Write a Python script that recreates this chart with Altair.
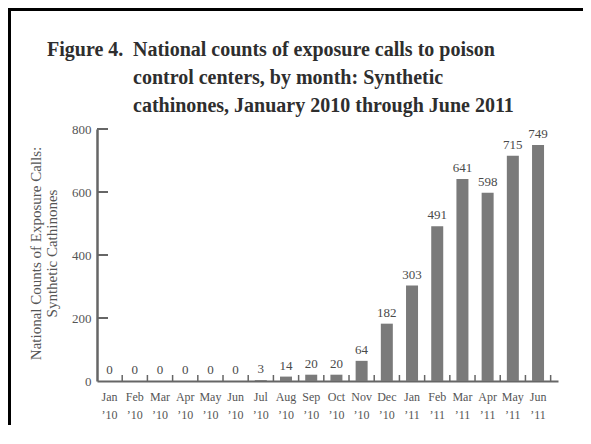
import altair as alt
import pandas as pd

# ---- data ----
months = ["Jan", "Feb", "Mar", "Apr", "May", "Jun", "Jul", "Aug", "Sep", "Oct", "Nov", "Dec",
          "Jan", "Feb", "Mar", "Apr", "May", "Jun"]
years = ["’10", "’10", "’10", "’10", "’10", "’10", "’10", "’10", "’10", "’10", "’10", "’10",
         "’11", "’11", "’11", "’11", "’11", "’11"]
counts = [0, 0, 0, 0, 0, 0, 3, 14, 20, 20, 64, 182, 303, 491, 641, 598, 715, 749]
y_tick_values = [0, 200, 400, 600, 800]
inner_tick_values = [200, 400, 600, 800]
figure_label = "Figure 4."
title_lines = [
    "National counts of exposure calls to poison",
    "control centers, by month: Synthetic",
    "cathinones, January 2010 through June 2011",
]
y_title = ["National Counts of Exposure Calls:", "Synthetic Cathinones"]

labels = [f"{m} {y}" for m, y in zip(months, years)]
df = pd.DataFrame({"label": labels, "count": counts})
ytick_df = pd.DataFrame({"count": inner_tick_values})
one = pd.DataFrame({"k": [0]})

SERIF = "Liberation Serif"
W, H = 461, 252
PAD_R, PAD_B = 25, 44
AXIS_COL = "#666666"
LABEL_COL = "#555555"

x_scale = alt.Scale(paddingInner=0, paddingOuter=0.146, align=0, round=False)
x_axis = alt.Axis(
    labelExpr="split(datum.label, ' ')", labelAngle=0, ticks=False, tickSize=0,
    labelPadding=19.5, labelBaseline="alphabetic", labelFont=SERIF, labelFontSize=12,
    labelColor=LABEL_COL, labelLineHeight=18, domainColor=AXIS_COL, domainWidth=2,
    grid=False, title=None,
)
y_scale = alt.Scale(domain=[0, 800], nice=False)
y_axis = alt.Axis(
    values=y_tick_values, ticks=False, tickSize=0, labelPadding=6, labelFont=SERIF,
    labelFontSize=13, labelColor=LABEL_COL, domainColor=AXIS_COL, domainWidth=2.5,
    grid=False, title=y_title, titleFont=SERIF, titleFontSize=15, titleFontWeight="normal",
    titleColor=LABEL_COL, titleAngle=270, titleX=-57, titleY=124, titleAlign="center",
    titleBaseline="alphabetic", titleLineHeight=16,
)

X = alt.X("label:N", sort=labels, scale=x_scale, axis=x_axis)
Y = alt.Y("count:Q", scale=y_scale, axis=y_axis)

base = alt.Chart(df)
bars = base.mark_bar(width=12, color="#7a7a7a").encode(x=X, y=Y)
values = base.mark_text(baseline="alphabetic", dy=-7, font=SERIF, fontSize=13,
                        color="#4a4a4a").encode(x=X, y=Y, text="count:Q")
xticks = base.mark_rule(color=AXIS_COL, strokeWidth=1.5).encode(
    x=alt.X("label:N", sort=labels, scale=x_scale, axis=x_axis, bandPosition=1),
    y=alt.value(H - 6), y2=alt.value(H),
)
yticks = alt.Chart(ytick_df).mark_rule(color=AXIS_COL, strokeWidth=2).encode(
    y=Y, x=alt.value(0), x2=alt.value(11)
)

layers = [bars, values, xticks, yticks]

# title text
layers.append(
    alt.Chart(pd.DataFrame({"t": [figure_label]})).mark_text(
        align="left", baseline="alphabetic", font=SERIF, fontSize=20, fontWeight="bold",
        color="#2e2e2e").encode(text="t:N", x=alt.value(-50), y=alt.value(-73))
)
for i, line in enumerate(title_lines):
    layers.append(
        alt.Chart(pd.DataFrame({"t": [line]})).mark_text(
            align="left", baseline="alphabetic", font=SERIF, fontSize=20, fontWeight="bold",
            color="#2e2e2e").encode(text="t:N", x=alt.value(36), y=alt.value(-73 + 28 * i))
    )

# frame (top and left edges of the figure box) drawn as thin filled rects
layers.append(alt.Chart(one).mark_rect(color="black").encode(
    x=alt.value(-89), x2=alt.value(-86), y=alt.value(-121), y2=alt.value(H + PAD_B)))
layers.append(alt.Chart(one).mark_rect(color="black").encode(
    x=alt.value(-89), x2=alt.value(W + PAD_R), y=alt.value(-121), y2=alt.value(-118)))

chart = alt.layer(*layers).properties(
    width=W, height=H,
    padding={"left": 89, "top": 121, "right": PAD_R, "bottom": PAD_B},
    autosize=alt.AutoSizeParams(type="none"),
    background="white",
).configure_view(stroke=None)

chart.save("out.html", embed_options={"renderer": "svg", "actions": False})
